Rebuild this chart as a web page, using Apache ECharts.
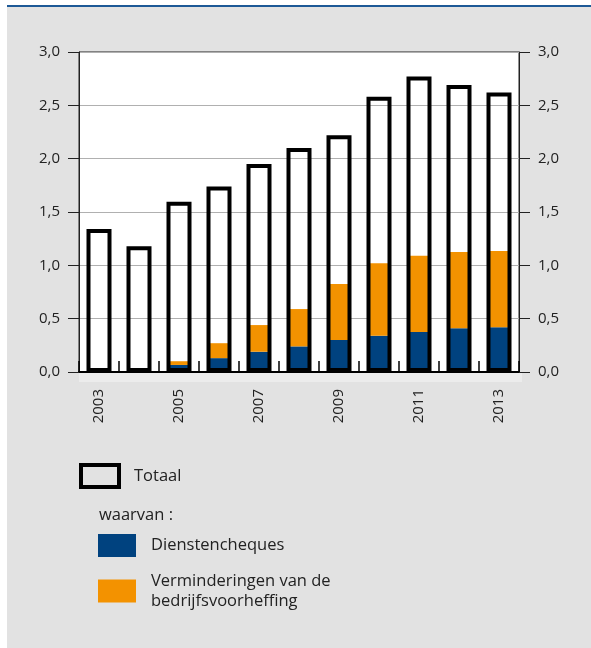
<!DOCTYPE html>
<html>
<head>
<meta charset="utf-8">
<script src="https://cdn.jsdelivr.net/npm/echarts@6/dist/echarts.min.js"></script>
<style>
html,body{margin:0;padding:0;background:#fff;}
#c{width:591px;height:648px;}
</style>
</head>
<body>
<div id="c"></div>
<script>
// Data
var years = ['2003','2004','2005','2006','2007','2008','2009','2010','2011','2012','2013'];
var totaal = [1.34, 1.18, 1.595, 1.74, 1.95, 2.10, 2.22, 2.58, 2.77, 2.69, 2.62];
var dienstencheques = [0, 0, 0.066, 0.13, 0.19, 0.24, 0.30, 0.34, 0.375, 0.41, 0.42];
var verminderingen = [0, 0.035, 0.035, 0.14, 0.25, 0.35, 0.525, 0.68, 0.715, 0.715, 0.715];
var yTicks = ['0,0','0,5','1,0','1,5','2,0','2,5','3,0'];

var FONT = '"Open Sans", "Noto Sans", sans-serif';
var TXT = '#222';
var BLUE = '#00427f';
var ORANGE = '#f39200';
var nameTot = 'Totaal';
var nameDien = 'Dienstencheques';
var nameVerm = 'Verminderingen van de bedrijfsvoorheffing';

var chart = echarts.init(document.getElementById('c'), null, {renderer:'canvas'});
function fmtY(v){ return yTicks[Math.round(v/0.5)]; }

var option = {
  animation:false,
  backgroundColor:'#fff',
  textStyle:{fontFamily:FONT},
  graphic:[
    {type:'rect', z:-10, silent:true, shape:{x:7,y:7,width:584,height:641}, style:{fill:'#e2e2e2'}},
    {type:'rect', z:-9, silent:true, shape:{x:7,y:5,width:584,height:2}, style:{fill:'#1d5996'}},
    {type:'rect', z:-9, silent:true, shape:{x:79,y:373,width:443,height:9}, style:{fill:'#ececec'}}
  ],
  title:{
    text:'waarvan :', left:99, top:507, padding:0,
    textStyle:{fontFamily:FONT,fontSize:16.5,fontWeight:'normal',color:TXT}
  },
  legend:[
    {data:[nameTot], left:79, top:463, padding:0, icon:'rect', itemWidth:38, itemHeight:22,
     itemStyle:{color:'rgba(0,0,0,0)', borderColor:'#000', borderWidth:4},
     textStyle:{fontFamily:FONT,fontSize:16.5,color:TXT,padding:[0,0,0,10]}},
    {data:[nameDien], left:98, top:534, padding:0, icon:'rect', itemWidth:38, itemHeight:23,
     itemStyle:{borderWidth:0},
     textStyle:{fontFamily:FONT,fontSize:16.5,color:TXT,padding:[0,0,0,10]}},
    {data:[nameVerm], left:98, top:571, padding:0, icon:'rect', itemWidth:38, itemHeight:23,
     itemStyle:{borderWidth:0},
     formatter:function(){return 'Verminderingen van de\nbedrijfsvoorheffing';},
     textStyle:{fontFamily:FONT,fontSize:16.5,color:TXT,lineHeight:20,padding:[0,0,0,10]}}
  ],
  grid:{left:79, right:72, top:52, bottom:276, show:true, backgroundColor:'#fff', borderColor:'#222', borderWidth:1},
  xAxis:[
    {type:'category', data:years, boundaryGap:true,
     axisLine:{show:true, lineStyle:{color:'#000', width:2}},
     axisTick:{show:true, inside:true, length:11, interval:0, lineStyle:{color:'#000', width:1.5}},
     axisLabel:{interval:1, rotate:90, margin:17, fontSize:15, color:TXT, fontFamily:FONT},
     splitLine:{show:false}},
    {type:'category', data:years, show:false, boundaryGap:true}
  ],
  yAxis:[
    {type:'value', min:0, max:3, interval:0.5, position:'left',
     axisLine:{show:true, lineStyle:{color:'#222', width:1}},
     axisTick:{show:true, length:11, lineStyle:{color:'#222'}},
     axisLabel:{formatter:fmtY, margin:19, fontSize:15, color:TXT, fontFamily:FONT},
     splitLine:{show:true, lineStyle:{color:'#b0b0b0', width:1}}},
    {type:'value', min:0, max:3, interval:0.5, position:'right',
     axisLine:{show:true, lineStyle:{color:'#222', width:1}},
     axisTick:{show:true, length:11, lineStyle:{color:'#222'}},
     axisLabel:{formatter:fmtY, margin:19, fontSize:15, color:TXT, fontFamily:FONT},
     splitLine:{show:false}}
  ],
  series:[
    {name:nameDien, type:'bar', stack:'s', xAxisIndex:0, yAxisIndex:0, barWidth:21,
     data:dienstencheques, itemStyle:{color:BLUE}, z:2},
    {name:nameVerm, type:'bar', stack:'s', xAxisIndex:0, yAxisIndex:0, barWidth:21,
     data:verminderingen, itemStyle:{color:ORANGE}, z:2},
    {name:nameTot, type:'bar', xAxisIndex:1, yAxisIndex:0, barWidth:25,
     data:totaal, itemStyle:{color:'rgba(0,0,0,0)', borderColor:'#000', borderWidth:4}, z:3}
  ]
};
chart.setOption(option);
</script>
</body>
</html>
